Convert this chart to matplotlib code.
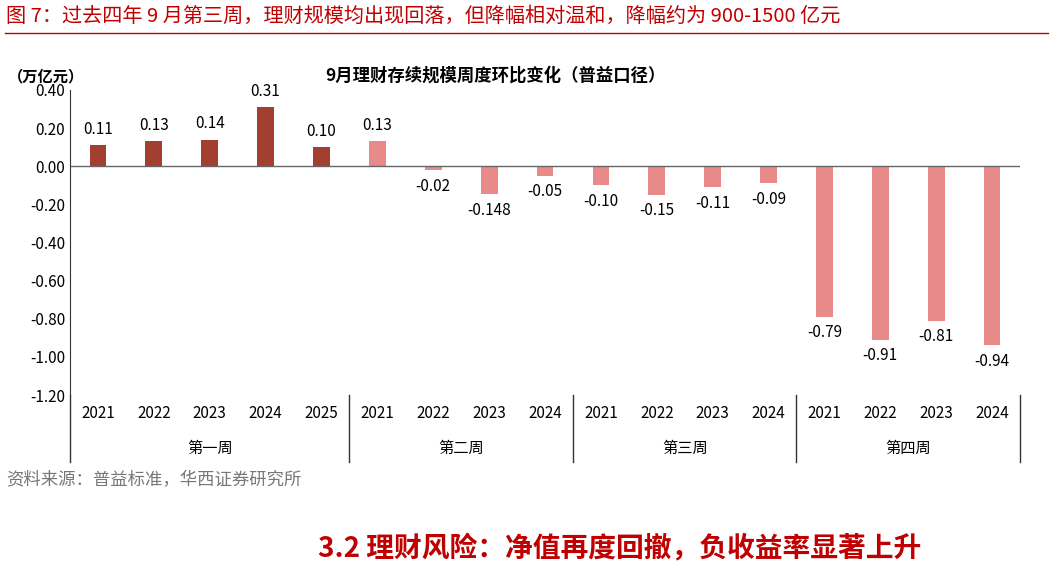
import matplotlib
matplotlib.use("Agg")
import matplotlib.pyplot as plt
from matplotlib.lines import Line2D

plt.rcParams['font.family'] = ['Noto Sans CJK SC', 'DejaVu Sans']

years = ["2021", "2022", "2023", "2024", "2025",
         "2021", "2022", "2023", "2024",
         "2021", "2022", "2023", "2024",
         "2021", "2022", "2023", "2024"]
values = [0.11, 0.13, 0.14, 0.31, 0.10,
          0.13, -0.02, -0.148, -0.05,
          -0.10, -0.15, -0.11, -0.09,
          -0.79, -0.91, -0.81, -0.94]
labels = ["0.11", "0.13", "0.14", "0.31", "0.10",
          "0.13", "-0.02", "-0.148", "-0.05",
          "-0.10", "-0.15", "-0.11", "-0.09",
          "-0.79", "-0.91", "-0.81", "-0.94"]
groups = ["第一周", "第二周", "第三周", "第四周"]
group_sizes = [5, 4, 4, 4]

dark, light = "#A33F30", "#E98A8A"
colors = [dark] * 5 + [light] * 12

W, H = 1053, 566
fig = plt.figure(figsize=(W / 100, H / 100), dpi=100)
ax = fig.add_axes([70 / W, 1 - 395 / H, (1020 - 70) / W, (395 - 90) / H])

x = list(range(len(values)))
ax.bar(x, values, width=0.3, color=colors)
for xi, v, lab in zip(x, values, labels):
    off = 0.04 if v >= 0 else -0.04
    ax.text(xi, v + off, lab, ha="center", va="bottom" if v >= 0 else "top", fontsize=11)

ax.set_xlim(-0.5, len(values) - 0.5)
ax.set_ylim(-1.2, 0.4)
ticks = [0.4, 0.2, 0, -0.2, -0.4, -0.6, -0.8, -1.0, -1.2]
ax.set_yticks(ticks)
ax.set_yticklabels([f"{t:.2f}" for t in ticks], fontsize=11)
ax.axhline(0, color="#666666", lw=1)
ax.set_xticks([])
for s in ["top", "right", "bottom"]:
    ax.spines[s].set_visible(False)
ax.spines["left"].set_color("#333333")
ax.tick_params(axis="y", length=0)

# category axis below
step = (1020 - 70) / len(values)
for xi, y in zip(x, years):
    fig.text((70 + step * (xi + 0.5)) / W, 1 - 413 / H, y, ha="center", va="center", fontsize=11)
start = 0
bounds = [0]
for g, n in zip(groups, group_sizes):
    cx = 70 + step * (start + n / 2)
    fig.text(cx / W, 1 - 448 / H, g, ha="center", va="center", fontsize=11)
    start += n
    bounds.append(start)
for b in bounds:
    px = (70 + step * b) / W
    fig.add_artist(Line2D([px, px], [1 - 395 / H, 1 - 462 / H], color="#333333", lw=1))

fig.text(495 / W, 1 - 76 / H, "9月理财存续规模周度环比变化（普益口径）", ha="center", va="center",
         fontsize=12.5, fontweight="bold")
fig.text(8 / W, 1 - 76 / H, "（万亿元）", ha="left", va="center", fontsize=11, fontweight="bold")

red = "#C00000"
fig.text(6 / W, 1 - 16 / H, "图 7：过去四年 9 月第三周，理财规模均出现回落，但降幅相对温和，降幅约为 900-1500 亿元",
         ha="left", va="center", fontsize=14.5, color=red)
fig.add_artist(Line2D([5 / W, 1048 / W], [1 - 33 / H, 1 - 33 / H], color=red, lw=1))
fig.text(6 / W, 1 - 480 / H, "资料来源：普益标准，华西证券研究所", ha="left", va="center",
         fontsize=12.5, color="#777777")
fig.text(620 / W, 1 - 548 / H, "3.2 理财风险：净值再度回撤，负收益率显著上升", ha="center", va="center",
         fontsize=20, fontweight="bold", color=red)

fig.savefig("out.png", dpi=100)
